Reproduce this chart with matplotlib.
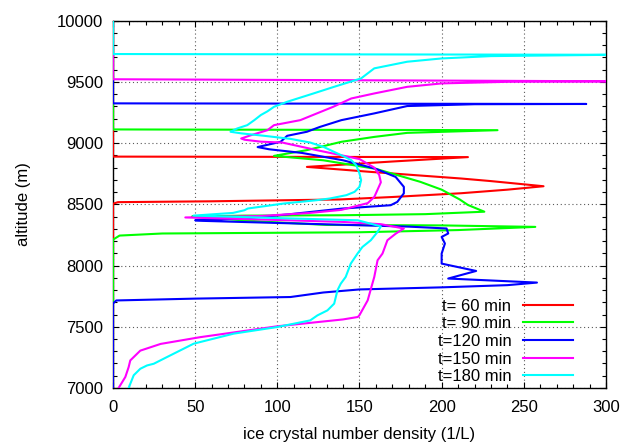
import matplotlib
matplotlib.use("Agg")
import matplotlib.pyplot as plt
from matplotlib.ticker import MultipleLocator

plt.rcParams["font.family"] = ["Liberation Sans", "DejaVu Sans"]

# ice crystal number density (1/L) vs altitude (m), one profile per output time
labels = ["t= 60 min", "t= 90 min", "t=120 min", "t=150 min", "t=180 min"]
colors = ["#ff0000", "#00ff00", "#0000ff", "#ff00ff", "#00ffff"]

alt_60 = [7000, 8505, 8518, 8525, 8540, 8560, 8591, 8620, 8648, 8690, 8711, 8765,
          8806, 8850, 8886, 8890, 10000]
n_60 = [0, 0, 3, 60, 138, 170, 212, 240, 262, 230, 212, 157,
        118, 170, 216, 0, 0]

alt_90 = [7000, 8212, 8245, 8262, 8272, 8290, 8316, 8328, 8332, 8360, 8392, 8400,
          8408, 8411, 8420, 8440, 8495, 8540, 8620, 8684, 8790, 8860, 8896, 8943,
          9011, 9051, 9084, 9106, 9112, 10000]
n_90 = [0, 0, 4, 30, 150, 210, 257, 200, 130, 90, 55, 48,
        80, 139, 190, 226, 216, 211, 200, 187, 160, 128, 98, 118,
        139, 159, 179, 234, 0, 0]

alt_120 = [7000, 7690, 7715, 7730, 7743, 7780, 7805, 7822, 7840, 7861, 7894, 7956,
           8016, 8098, 8180, 8234, 8262, 8303, 8318, 8329, 8348, 8365, 8370, 8385,
           8420, 8465, 8493, 8520, 8590, 8643, 8724, 8790, 8860, 8920, 8950, 8968,
           9011, 9060, 9093, 9133, 9188, 9243, 9303, 9318, 9320, 9325, 10000]
n_120 = [0, 0, 2, 50, 108, 128, 150, 200, 240, 258, 204, 221,
         200, 200, 202, 200, 204, 203, 180, 151, 100, 55, 50, 80,
         108, 139, 169, 173, 177, 177, 172, 160, 140, 115, 95, 88,
         102, 106, 118, 126, 139, 159, 179, 220, 288, 0, 0]

alt_150 = [7000, 7090, 7170, 7225, 7305, 7360, 7415, 7504, 7560, 7580, 7595, 7716,
           7812, 7907, 8043, 8098, 8207, 8260, 8303, 8338, 8357, 8380, 8393, 8405,
           8430, 8455, 8510, 8560, 8620, 8680, 8740, 8800, 8870, 8940, 9005, 9012,
           9028, 9038, 9065, 9106, 9147, 9188, 9297, 9365, 9406, 9460, 9488, 9501,
           9505, 9522, 10000]
n_150 = [3.4, 7.5, 9.5, 10.5, 16.6, 29, 53, 100, 140, 149, 150, 155,
         157, 159, 161, 164, 167, 172, 177, 163, 139, 80, 44, 90,
         120, 139, 155, 159, 161, 163, 162, 159, 150, 125, 103, 90,
         80, 78, 84, 94, 98, 114, 134, 145, 159, 179, 200, 240,
         310, 0, 0]

alt_180 = [7000, 7104, 7157, 7184, 7198, 7253, 7362, 7444, 7498, 7552, 7593, 7634,
           7689, 7798, 7852, 7907, 8016, 8098, 8152, 8207, 8275, 8320, 8370, 8385,
           8408, 8430, 8452, 8466, 8507, 8534, 8548, 8575, 8602, 8643, 8698, 8752,
           8820, 8861, 8888, 8929, 8970, 9005, 9035, 9060, 9080, 9093, 9120, 9147,
           9188, 9230, 9260, 9297, 9338, 9406, 9460, 9529, 9611, 9665, 9692, 9711,
           9722, 9728, 10000]
n_180 = [9.5, 12.6, 16.6, 20.7, 24.8, 32.9, 49.1, 73.5, 100, 120, 124.4, 130.5,
         134.6, 136.6, 138.6, 141.6, 144.7, 148.8, 151.8, 156.9, 161, 163, 149, 108,
         49, 73, 80, 82, 104, 124, 132, 142, 147, 150, 151, 150,
         148, 145, 141, 134.5, 128, 120, 108, 92, 78, 71.5, 75.6, 81.7,
         86, 90, 94, 98, 106, 122, 134.5, 151, 159, 179, 200, 230,
         305, 0, 0]

profiles = [(n_60, alt_60), (n_90, alt_90), (n_120, alt_120), (n_150, alt_150), (n_180, alt_180)]

fig = plt.figure(figsize=(6.22, 4.43), dpi=100)
ax = fig.add_axes([0.1817, 0.1242, 0.7925, 0.8290])

for (n, alt), lab, col in zip(profiles, labels, colors):
    ax.plot(n, alt, color=col, lw=1.5, label=lab, zorder=3)

ax.set_xlim(0, 300)
ax.set_ylim(7000, 10000)
ax.xaxis.set_major_locator(MultipleLocator(50))
ax.xaxis.set_minor_locator(MultipleLocator(10))
ax.yaxis.set_major_locator(MultipleLocator(500))
ax.yaxis.set_minor_locator(MultipleLocator(100))
ax.tick_params(which="both", direction="in", top=True, right=True, labelsize=12, width=0.8)
ax.tick_params(which="major", length=4.5)
ax.tick_params(axis="x", which="major", pad=8.5)
ax.tick_params(axis="y", which="major", pad=7)
ax.tick_params(which="minor", length=3)
ax.grid(True, which="major", color="0.35", linestyle=(0, (1, 2.5)), lw=0.8)
for s in ax.spines.values():
    s.set_linewidth(1.0)

ax.set_xlabel("ice crystal number density (1/L)", fontsize=12, labelpad=9)
ax.set_ylabel("altitude (m)", fontsize=12, labelpad=19)

ax.legend(loc="lower right", bbox_to_anchor=(0.933, 0.01), frameon=False,
          markerfirst=False, fontsize=12, handlelength=3.0, handletextpad=0.7,
          labelspacing=0.16, borderpad=0, borderaxespad=0)

fig.savefig("out.png", dpi=100)
